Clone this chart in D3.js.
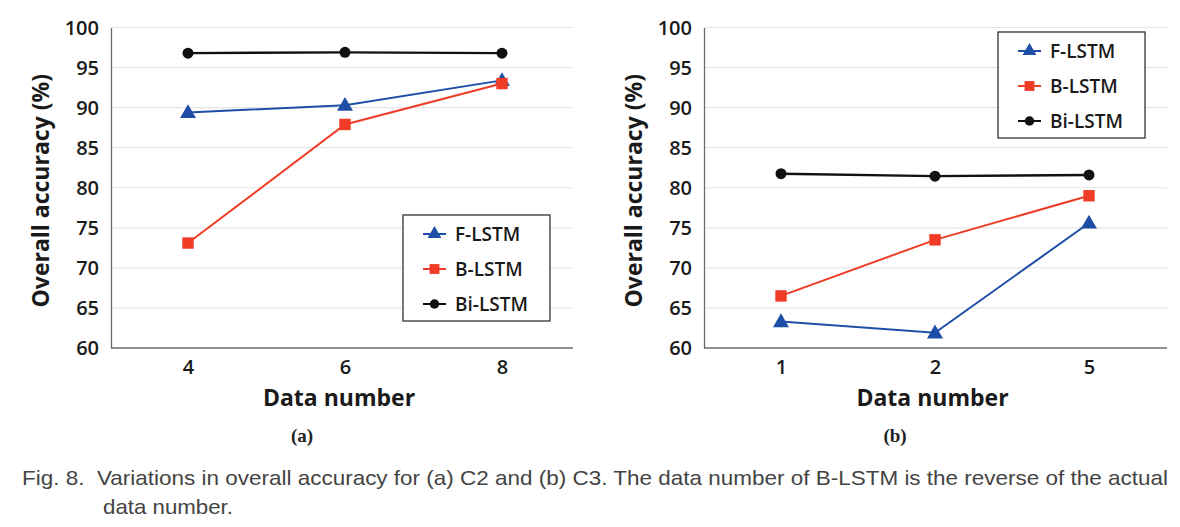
<!DOCTYPE html>
<html>
<head>
<meta charset="utf-8">
<script src="https://cdn.jsdelivr.net/npm/d3@7"></script>
<style>
  body { margin: 0; background: #fff; }
  svg { display: block; }
</style>
</head>
<body>
<svg id="chart" width="1180" height="527"></svg>
<script>
// data
const seriesNames = ["F-LSTM", "B-LSTM", "Bi-LSTM"];
const catsA = ["4", "6", "8"];
const catsB = ["1", "2", "5"];
const fA = [89.4, 90.3, 93.4];
const bA = [73.1, 87.9, 93.0];
const biA = [96.8, 96.9, 96.8];
const fB = [63.3, 61.9, 75.6];
const bB = [66.5, 73.5, 79.0];
const biB = [81.75, 81.45, 81.6];
const yTicks = [60, 65, 70, 75, 80, 85, 90, 95, 100];

const colors = {"F-LSTM": "#1f4ea6", "B-LSTM": "#f03c26", "Bi-LSTM": "#111"};
const shapes = {"F-LSTM": d3.symbolTriangle, "B-LSTM": d3.symbolSquare, "Bi-LSTM": d3.symbolCircle};
const sizes = {"F-LSTM": 110, "B-LSTM": 130, "Bi-LSTM": 95};

const svg = d3.select("#chart");
svg.append("rect").attr("width", 1180).attr("height", 527).attr("fill", "#fff");

function panel(opt) {
  const g = svg.append("g");
  // points placed where the figure has them, axis line spans the full plot
  const x = d3.scalePoint().domain(opt.cats).range([opt.p0, opt.p1]);
  const y = d3.scaleLinear().domain([60, 100]).range([348, 27.5]);

  // gridlines
  g.append("g").selectAll("line").data(yTicks.slice(1)).join("line")
    .attr("x1", opt.x0).attr("x2", opt.x1)
    .attr("y1", d => y(d)).attr("y2", d => y(d))
    .attr("stroke", "#e6e6e6").attr("stroke-width", 1.2);

  const ya = g.append("g").attr("transform", `translate(${opt.x0},0)`)
    .call(d3.axisLeft(y).tickValues(yTicks).tickSize(0).tickPadding(12));
  ya.select(".domain").attr("stroke", "#6b6b6b").attr("stroke-width", 1.3);
  ya.selectAll("text").attr("font-family", "Open Sans").attr("font-size", 20)
    .attr("font-weight", 600).attr("fill", "#1a1a1a").attr("dy", "0.34em");

  const xa = g.append("g").attr("transform", `translate(0,${y(60)})`)
    .call(d3.axisBottom(x).tickSize(0).tickPadding(12));
  xa.select(".domain").remove();
  xa.append("line").attr("x1", opt.x0).attr("x2", opt.x1)
    .attr("stroke", "#6b6b6b").attr("stroke-width", 1.3);
  xa.selectAll("text").attr("font-family", "Open Sans").attr("font-size", 20)
    .attr("font-weight", 600).attr("fill", "#1a1a1a");

  g.append("text").attr("x", (opt.x0 + opt.x1) / 2 - 3).attr("y", 406)
    .attr("text-anchor", "middle").attr("font-family", "Open Sans").attr("font-weight", 700)
    .attr("font-size", 23).attr("fill", "#1a1a1a").text("Data number");

  g.append("text").attr("transform", `translate(${opt.x0 - 62},${y(80) + 3}) rotate(-90)`)
    .attr("text-anchor", "middle").attr("font-family", "Open Sans").attr("font-weight", 700)
    .attr("font-size", 23).attr("fill", "#1a1a1a").text("Overall accuracy (%)");

  const line = d3.line().x((d, i) => x(opt.cats[i])).y(d => y(d));
  opt.series.forEach((vals, k) => {
    const name = seriesNames[k];
    g.append("path").datum(vals).attr("d", line).attr("fill", "none")
      .attr("stroke", colors[name]).attr("stroke-width", name === "Bi-LSTM" ? 2.4 : 2);
    g.append("g").selectAll("path").data(vals).join("path")
      .attr("transform", (d, i) => `translate(${x(opt.cats[i])},${y(d) + (name === "F-LSTM" ? 1 : 0)})`)
      .attr("d", d3.symbol(shapes[name], sizes[name]))
      .attr("fill", colors[name]);
  });

  // legend
  const lg = g.append("g").attr("transform", `translate(${opt.lx},${opt.ly})`);
  lg.append("rect").attr("width", 147).attr("height", 106).attr("fill", "#fff")
    .attr("stroke", "#333").attr("stroke-width", 1.3);
  seriesNames.forEach((name, k) => {
    const cy = 19 + k * 35;
    lg.append("line").attr("x1", 20).attr("x2", 43).attr("y1", cy).attr("y2", cy)
      .attr("stroke", colors[name]).attr("stroke-width", 2);
    lg.append("path").attr("transform", `translate(31.5,${cy})`)
      .attr("d", d3.symbol(shapes[name], sizes[name] * 0.75)).attr("fill", colors[name]);
    lg.append("text").attr("x", 52).attr("y", cy).attr("dy", "0.36em")
      .attr("font-family", "Open Sans").attr("font-weight", 600).attr("font-size", 19)
      .attr("fill", "#1a1a1a").text(name);
  });
}

panel({cats: catsA, series: [fA, bA, biA], x0: 111, x1: 573, p0: 188, p1: 502, lx: 403, ly: 215});
panel({cats: catsB, series: [fB, bB, biB], x0: 704, x1: 1167, p0: 781, p1: 1089, lx: 998, ly: 32});

// sub labels
svg.append("text").attr("x", 302).attr("y", 442).attr("text-anchor", "middle")
  .attr("font-family", "Liberation Serif").attr("font-weight", 700).attr("font-size", 19)
  .attr("fill", "#222").text("(a)");
svg.append("text").attr("x", 895).attr("y", 442).attr("text-anchor", "middle")
  .attr("font-family", "Liberation Serif").attr("font-weight", 700).attr("font-size", 19)
  .attr("fill", "#222").text("(b)");

// caption
svg.append("text").attr("x", 22).attr("y", 485).style("white-space", "pre")
  .attr("font-family", "Liberation Sans Narrow, Liberation Sans").attr("font-size", 21)
  .attr("fill", "#444").attr("textLength", 1146).attr("lengthAdjust", "spacingAndGlyphs")
  .text("Fig. 8.  Variations in overall accuracy for (a) C2 and (b) C3. The data number of B-LSTM is the reverse of the actual");
svg.append("text").attr("x", 103).attr("y", 514)
  .attr("font-family", "Liberation Sans Narrow, Liberation Sans").attr("font-size", 21)
  .attr("fill", "#444").attr("textLength", 130).attr("lengthAdjust", "spacingAndGlyphs")
  .text("data number.");
</script>
</body>
</html>
